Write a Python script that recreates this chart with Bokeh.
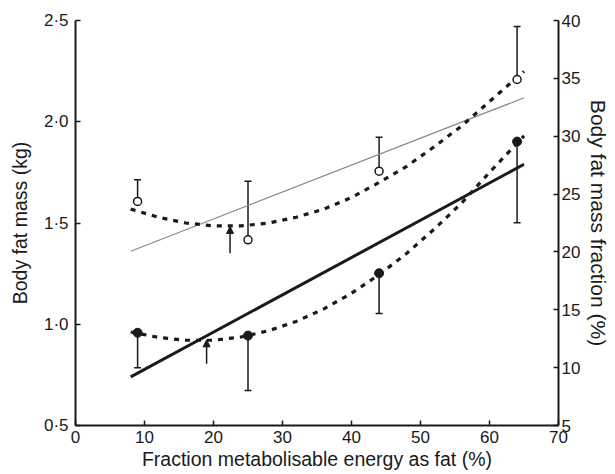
from bokeh.plotting import figure
from bokeh.models import (Range1d, LinearAxis, Whisker, TeeHead, Arrow, NormalHead,
                          ColumnDataSource, FixedTicker)
from bokeh.embed import file_html
from bokeh.resources import INLINE

# ---------------- data ----------------
x_ticks = [0, 10, 20, 30, 40, 50, 60, 70]
left_ticks = [0.5, 1.0, 1.5, 2.0, 2.5]
left_tick_labels = ["0·5", "1·0", "1·5", "2·0", "2·5"]
right_ticks = [5, 10, 15, 20, 25, 30, 35, 40]

diet_fat = [9, 25, 44, 64]
fat_mass_kg = [0.958, 0.944, 1.252, 1.902]
fat_mass_kg_lower = [0.785, 0.673, 1.053, 1.501]
fat_fraction_pct = [24.36, 21.05, 26.98, 34.90]
fat_fraction_pct_upper = [26.23, 26.11, 29.92, 39.48]

linear_fit_x = [8, 65]
linear_fit_kg = [0.74, 1.79]
linear_fit_pct = [20.06, 33.32]

curve_x = [8, 12, 16, 20, 24, 28, 32, 36, 40, 44, 48, 52, 56, 60, 65]
curve_kg = [0.962, 0.935, 0.921, 0.921, 0.937, 0.968, 1.014, 1.076, 1.153, 1.245,
            1.35, 1.47, 1.60, 1.75, 1.93]
curve_pct = [23.7, 23.0, 22.5, 22.25, 22.25, 22.5, 23.0, 23.7, 24.7, 26.0, 27.4,
             29.1, 30.9, 33.0, 35.6]

arrow_kg = dict(x=19.0, y_from=0.805, y_to=0.923)
arrow_pct = dict(x=22.4, y_from=19.89, y_to=22.2)

x_label = "Fraction metabolisable energy as fat (%)"
left_label = "Body fat mass (kg)"
right_label = "Body fat mass fraction (%)"

# ---------------- figure ----------------
INK = "#1a1a1a"
FONT = "Liberation Sans"

p = figure(width=615, height=474, x_range=Range1d(0, 70), y_range=Range1d(0.5, 2.5),
           output_backend="svg", toolbar_location=None,
           min_border_left=75, min_border_right=57, min_border_top=20,
           min_border_bottom=49, x_axis_location=None, y_axis_location=None)
p.extra_y_ranges = {"right": Range1d(5, 40)}
p.outline_line_color = None
p.border_fill_color = "white"
p.xgrid.visible = False
p.ygrid.visible = False


def style(ax, standoff):
    ax.axis_line_width = 2
    ax.axis_line_color = INK
    ax.major_tick_in = 5
    ax.major_tick_out = 0
    ax.major_tick_line_width = 1.5
    ax.major_tick_line_color = INK
    ax.minor_tick_line_color = None
    ax.major_label_text_font = FONT
    ax.major_label_text_font_size = "17px"
    ax.major_label_text_color = INK
    ax.major_label_standoff = standoff
    ax.axis_label_text_font = FONT
    ax.axis_label_text_font_size = "19.5px"
    ax.axis_label_text_font_style = "normal"
    ax.axis_label_text_color = INK


xaxis = LinearAxis(ticker=FixedTicker(ticks=x_ticks))
style(xaxis, 5)
xaxis.axis_label = x_label
xaxis.axis_label_standoff = 2
p.add_layout(xaxis, "below")

yaxis = LinearAxis(ticker=FixedTicker(ticks=left_ticks),
                   major_label_overrides={t: s for t, s in zip(left_ticks, left_tick_labels)})
style(yaxis, 7)
yaxis.axis_label = left_label
yaxis.axis_label_standoff = 10
p.add_layout(yaxis, "left")

raxis = LinearAxis(y_range_name="right", ticker=FixedTicker(ticks=right_ticks))
style(raxis, 3)
raxis.axis_label = right_label
raxis.axis_label_text_font_size = "21px"
raxis.axis_label_standoff = 4
p.add_layout(raxis, "right")

# fitted lines
p.line(linear_fit_x, linear_fit_pct, line_color="#8a8a8a", line_width=1.2, y_range_name="right")
p.line(linear_fit_x, linear_fit_kg, line_color=INK, line_width=3)
p.line(curve_x, curve_pct, line_color=INK, line_width=3.2, line_dash="5 6", y_range_name="right")
p.line(curve_x, curve_kg, line_color=INK, line_width=3.2, line_dash="5 6")

# error bars
src_pct = ColumnDataSource(dict(x=diet_fat, lo=fat_fraction_pct, hi=fat_fraction_pct_upper))
src_kg = ColumnDataSource(dict(x=diet_fat, lo=fat_mass_kg_lower, hi=fat_mass_kg))
p.add_layout(Whisker(base="x", lower="lo", upper="hi", source=src_pct, dimension="height",
                     y_range_name="right", line_color=INK, line_width=1.5,
                     upper_head=TeeHead(size=7, line_color=INK, line_width=1.5),
                     lower_head=None))
p.add_layout(Whisker(base="x", lower="lo", upper="hi", source=src_kg, dimension="height",
                     line_color=INK, line_width=1.5,
                     lower_head=TeeHead(size=7, line_color=INK, line_width=1.5),
                     upper_head=None))

# points
p.scatter(diet_fat, fat_fraction_pct, size=8, marker="circle", fill_color="white",
          line_color=INK, line_width=1.5, y_range_name="right")
p.scatter(diet_fat, fat_mass_kg, size=9, marker="circle", fill_color=INK,
          line_color=INK, line_width=1)

# arrows marking minima
p.add_layout(Arrow(x_start=arrow_pct["x"], y_start=arrow_pct["y_from"],
                   x_end=arrow_pct["x"], y_end=arrow_pct["y_to"], y_range_name="right",
                   line_color=INK, line_width=1.5,
                   end=NormalHead(size=7, fill_color=INK, line_color=INK)))
p.add_layout(Arrow(x_start=arrow_kg["x"], y_start=arrow_kg["y_from"],
                   x_end=arrow_kg["x"], y_end=arrow_kg["y_to"],
                   line_color=INK, line_width=1.5,
                   end=NormalHead(size=7, fill_color=INK, line_color=INK)))

open("out.html", "w").write(file_html(p, INLINE))
